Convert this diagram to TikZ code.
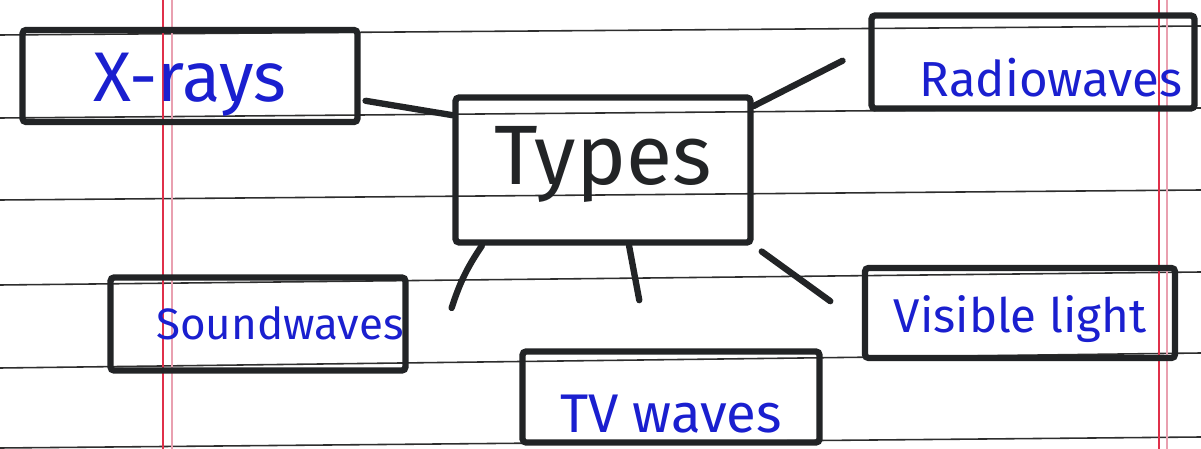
\documentclass[tikz,border=0pt]{standalone}
\usepackage{fontspec}
\setmainfont{Fira Sans}
\usetikzlibrary{calc}
\definecolor{inkblue}{HTML}{1A1FCF}
\definecolor{inkblack}{HTML}{222426}
\definecolor{ruleline}{HTML}{2E2E2E}
\definecolor{marginred}{HTML}{E0304A}
\definecolor{marginpink}{HTML}{E9A0B0}
\tikzset{
  ruled/.style={line width=0.9pt,ruleline},
  margin/.style={line width=0.7pt,marginred},
  marginlight/.style={line width=0.7pt,marginpink},
  wavebox/.style={draw=inkblack,line width=3.6pt,rounded corners=2pt,inner sep=0pt,text=inkblue,text depth=0pt},
  link/.style={draw=inkblack,line width=3.6pt,line cap=round}
}

\begin{document}
\begin{tikzpicture}[x=0.02cm,y=-0.02cm]
  \useasboundingbox (0,0) rectangle (1201,449);
  \fill[white] (0,0) rectangle (1201,449);
  % lined paper
  \foreach \l/\r in {35/26,118/108,200/190,285/272,368/353,448/437}{
    \draw[ruled] (0,\l) -- (1201,\r);
  }
  \foreach \x in {163,1159}{\draw[margin] (\x,0) -- (\x,449);}
  \foreach \x in {172,1167}{\draw[marginlight] (\x,0) -- (\x,449);}
  % boxes
  \node[wavebox,text=inkblack,text height=0.6cm,minimum width=5.9cm,minimum height=2.9cm,font=\fontsize{48}{48}\selectfont] (types) at (603,170) {Types};
  \node[wavebox,text height=1.04cm,minimum width=6.7cm,minimum height=1.84cm,font=\fontsize{40}{40}\selectfont] (xrays) at (190,76) {X-rays\hspace{0.2cm}};
  \node[wavebox,text height=1.4cm,minimum width=6.46cm,minimum height=1.86cm,font=\fontsize{28}{28}\selectfont] (radio) at (1033,62) {\hspace{0.72cm}Radiowaves};
  \node[wavebox,text height=0.64cm,minimum width=5.9cm,minimum height=1.86cm,font=\fontsize{25}{25}\selectfont] (sound) at (258,324) {\hspace{0.88cm}Soundwaves};
  \node[wavebox,text height=0.8cm,minimum width=6.2cm,minimum height=1.8cm,font=\fontsize{27}{27}\selectfont] (visible) at (1020,313) {Visible light};
  \node[wavebox,text height=1.44cm,minimum width=5.94cm,minimum height=1.82cm,font=\fontsize{31}{31}\selectfont] (tv) at (671,397) {TV waves\hspace{1cm}};
  % links
  \draw[link,shorten <=0.1cm] (xrays.-8) -- (types.160);
  \draw[link,shorten >=0.58cm] (types.23) -- (radio.175);
  \draw[link] (types.212) to[bend right=8] ($(sound.east)+(43,-16)$);
  \draw[link,shorten >=0.98cm] (types.289) -- (tv.115);
  \draw[link,shorten <=0.2cm,shorten >=0.78cm] (types.south east) -- (visible.184);
\end{tikzpicture}
\end{document}
